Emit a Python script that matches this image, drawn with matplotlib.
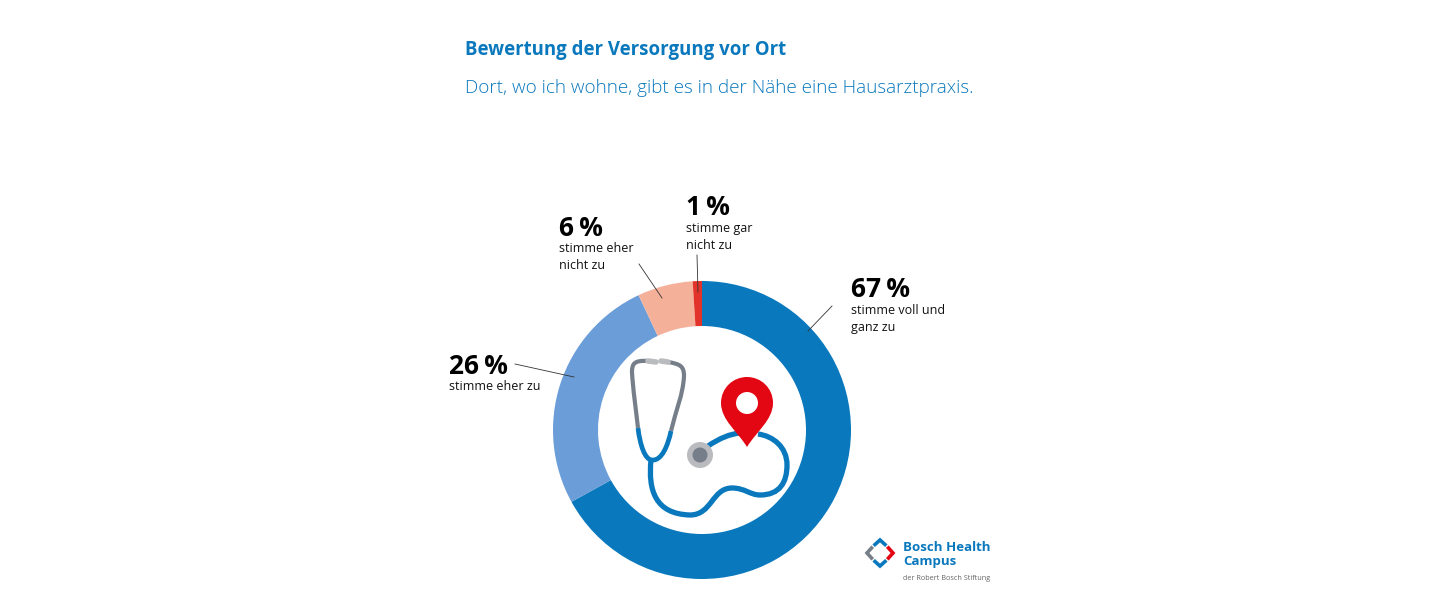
import matplotlib
matplotlib.use('Agg')
import matplotlib.pyplot as plt
from matplotlib.patches import Circle, PathPatch
from matplotlib.path import Path

# Daten
werte = [67, 26, 6, 1]
prozente = ['67\u2009%', '26\u2009%', '6\u2009%', '1\u2009%']
beschriftung = ['stimme voll und\nganz zu', 'stimme eher zu', 'stimme eher\nnicht zu', 'stimme gar\nnicht zu']
farben = ['#0a78bd', '#6b9dd8', '#f5b09a', '#e2332a']

BLAU = '#0a78bd'
GRAU = '#767f89'
ROT = '#e30613'
FONT = ['Open Sans', 'DejaVu Sans']

fig = plt.figure(figsize=(14.4, 6.04), dpi=100)
ax = fig.add_axes([0, 0, 1, 1])


def Y(y):
    # Pixel von oben -> Achse
    return 604 - y


def kurve(punkte, farbe, breite):
    # punkte: Start, danach je drei Punkte einer Bezierkurve
    codes = [Path.MOVETO] + [Path.CURVE4] * (len(punkte) - 1)
    verts = [(x, Y(y)) for x, y in punkte]
    ax.add_patch(PathPatch(Path(verts, codes), fill=False, edgecolor=farbe, lw=breite, capstyle='butt'))


# Donut
ax.pie(werte, colors=farben, startangle=90, counterclock=False, center=(702, Y(430)), radius=149,
       frame=True, wedgeprops=dict(width=45, linewidth=0))
ax.set_xlim(0, 1440)
ax.set_ylim(0, 604)
ax.set_aspect('equal')
ax.axis('off')

# Titel
ax.text(465, Y(55), 'Bewertung der Versorgung vor Ort', color=BLAU, fontsize=13.4, fontweight='bold', family=FONT)
ax.text(465, Y(93), 'Dort, wo ich wohne, gibt es in der Nähe eine Hausarztpraxis.', color=BLAU, fontsize=13.6,
        fontweight='light', family=FONT)

# Beschriftungen
pos_prozent = [(851, 297), (449, 374), (559, 236), (686, 215)]
pos_text = [(851, 304.5), (449, 380.5), (559, 242), (686, 222)]
for p, b, (px, py), (tx, ty) in zip(prozente, beschriftung, pos_prozent, pos_text):
    ax.text(px, Y(py), p, fontsize=19, fontweight='bold', color='black', family=FONT)
    ax.text(tx, Y(ty), b, fontsize=9, color='#111111', family=FONT, va='top', linespacing=1.36)

# Hinweislinien
linien = [((832, 306), (808, 331)), ((515, 364), (574, 377)), ((639, 264), (662, 298)), ((697, 255), (698, 292))]
for (x0, y0), (x1, y1) in linien:
    ax.plot([x0, x1], [Y(y0), Y(y1)], color='#333333', lw=0.6, zorder=5)

# Stethoskop
kurve([(648, 361), (634, 360), (632, 364), (632, 372),
       (633, 390), (636, 410), (638, 428)], GRAU, 3)
kurve([(668, 362), (680, 364), (684, 366), (684, 376),
       (683, 395), (676, 410), (671, 431)], GRAU, 3)
kurve([(638, 428), (640, 445), (645, 460), (652, 460),
       (662, 461), (668, 445), (671, 431)], BLAU, 3.4)
kurve([(651, 460), (648, 490), (655, 514), (690, 515),
       (712, 515), (712, 488), (732, 488),
       (745, 488), (750, 495), (760, 495),
       (780, 495), (787, 482), (787, 465),
       (787, 447), (773, 436), (758, 434)], BLAU, 3.8)
kurve([(708, 446), (720, 438), (730, 434), (740, 433)], BLAU, 3.8)

# Ohrstücke
for x0, x1 in [(648, 656), (661, 668)]:
    ax.plot([x0, x1], [Y(361), Y(362)], color='#b9bbbe', lw=4, solid_capstyle='round')

# Bruststück
ax.add_patch(Circle((700, Y(455)), 13, color='#b9bbbe', lw=0))
ax.add_patch(Circle((700, Y(455)), 7.5, color=GRAU, lw=0))

# Standort-Pin
pin = Path([(747, Y(447)), (738, Y(432)), (721, Y(420)), (721, Y(403)),
            (721, Y(388)), (733, Y(377)), (747, Y(377)),
            (761, Y(377)), (773, Y(388)), (773, Y(403)),
            (773, Y(420)), (756, Y(432)), (747, Y(447))],
           [Path.MOVETO] + [Path.CURVE4] * 12)
ax.add_patch(PathPatch(pin, facecolor=ROT, edgecolor='none', zorder=4))
ax.add_patch(Circle((747, Y(403)), 11, color='white', lw=0, zorder=5))

# Logo
chevrons = [([(875, 544.5), (880, 540), (885, 544.5)], BLAU),
            ([(888.5, 548), (893, 553), (888.5, 558)], ROT),
            ([(875, 561.5), (880, 566), (885, 561.5)], BLAU),
            ([(871.5, 548), (867, 553), (871.5, 558)], GRAU)]
for punkte, farbe in chevrons:
    ax.plot([p[0] for p in punkte], [Y(p[1]) for p in punkte], color=farbe, lw=2.6, solid_joinstyle='miter')
ax.text(903, Y(551), 'Bosch Health', fontsize=9.5, fontweight='bold', color=BLAU, family=FONT)
ax.text(903, Y(565), 'Campus', fontsize=9.5, fontweight='bold', color=BLAU, family=FONT)
ax.text(903, Y(580), 'der Robert Bosch Stiftung', fontsize=5.2, color='#666666', family=FONT)

fig.savefig('out.png', dpi=100, facecolor='white')
